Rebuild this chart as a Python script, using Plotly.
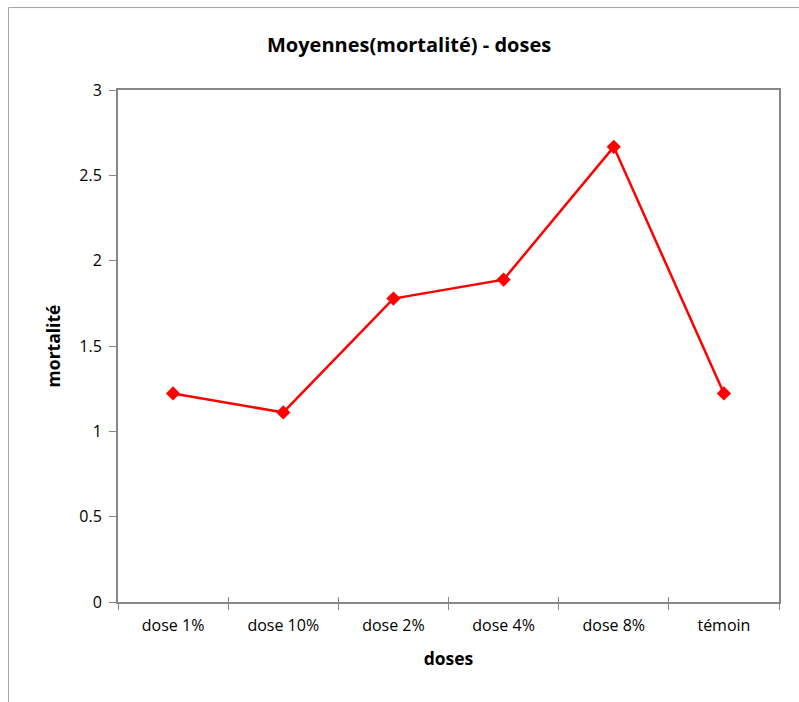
import plotly.graph_objects as go

# Mean mortality per dose group
doses = ["dose 1%", "dose 10%", "dose 2%", "dose 4%", "dose 8%", "témoin"]
mortalite = [1.222, 1.111, 1.778, 1.889, 2.667, 1.222]

AXIS_GREY = "#868686"
FONT = "Open Sans"

fig = go.Figure()
fig.add_trace(go.Scatter(
    x=doses, y=mortalite, mode="lines+markers",
    line=dict(color="#FF0000", width=2.5),
    marker=dict(symbol="diamond", size=11, color="#FF0000"),
    showlegend=False, hoverinfo="x+y",
))
# invisible trace carrying the overlay axis that draws the inner half of the ticks
fig.add_trace(go.Scatter(x=doses, y=mortalite, xaxis="x2", mode="markers",
                         marker=dict(opacity=0), showlegend=False, hoverinfo="skip"))

fig.update_layout(
    width=799, height=702,
    margin=dict(l=118, r=20, t=90, b=100),
    paper_bgcolor="white", plot_bgcolor="white",
    font=dict(family=FONT, color="#000000", size=16),
    title=dict(text="<b>Moyennes(mortalité) - doses</b>", x=0.512, xanchor="center",
               y=1 - 45 / 702, yanchor="middle", font=dict(size=20, family=FONT)),
    xaxis=dict(
        type="category", range=[-0.5, 5.5], tickson="boundaries",
        ticks="outside", ticklen=6, tickcolor=AXIS_GREY, tickwidth=1,
        showline=True, linecolor=AXIS_GREY, linewidth=2, mirror=True,
        showgrid=False, zeroline=False,
        tickfont=dict(size=16), ticklabelstandoff=8,
        title=dict(text="<b>doses</b>", font=dict(size=17.5), standoff=18),
    ),
    xaxis2=dict(
        type="category", range=[-0.5, 5.5], overlaying="x", tickson="boundaries",
        ticks="inside", ticklen=5, tickcolor=AXIS_GREY, tickwidth=1,
        showticklabels=False, showgrid=False, zeroline=False, showline=False,
    ),
    yaxis=dict(
        range=[0, 3], dtick=0.5,
        ticks="outside", ticklen=7, tickcolor=AXIS_GREY, tickwidth=1,
        showline=True, linecolor=AXIS_GREY, linewidth=2, mirror=True,
        showgrid=False, zeroline=False,
        tickfont=dict(size=16), ticklabelstandoff=4,
        title=dict(text="<b>mortalité</b>", font=dict(size=17.5), standoff=14),
    ),
    shapes=[
        # outer chart frame (top and left edges)
        dict(type="line", xref="paper", yref="paper", x0=-0.1657, x1=1.1, y0=1.161, y1=1.161,
             line=dict(color="#A0A0A0", width=1)),
        dict(type="line", xref="paper", yref="paper", x0=-0.1657, x1=-0.1657, y0=1.161, y1=-0.2,
             line=dict(color="#A0A0A0", width=1)),
    ],
)

fig.write_html("out.html")
